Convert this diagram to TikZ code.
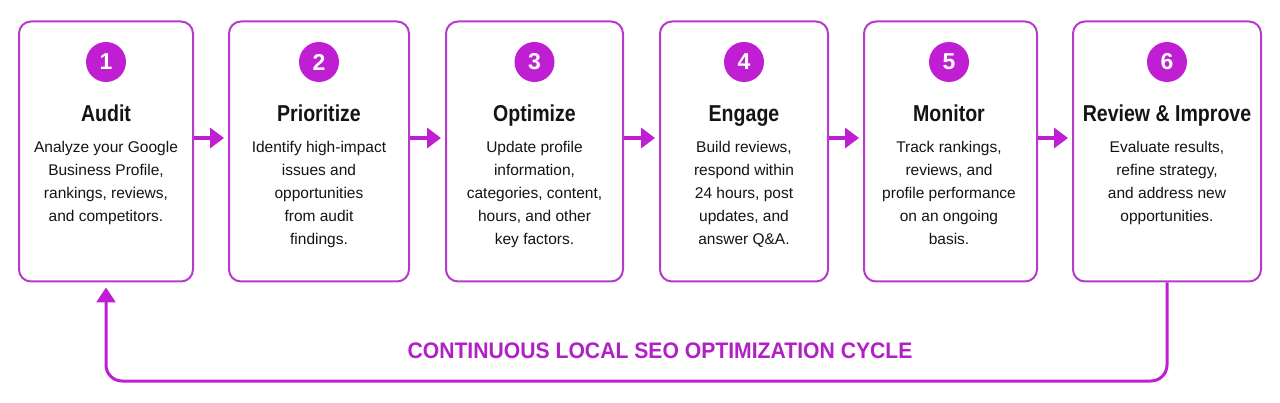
\documentclass[tikz,border=0pt]{standalone}
\usepackage{fontspec}
\setmainfont{Liberation Sans}
\newfontfamily\titlefont[FakeStretch=0.85]{Liberation Sans Bold}
\newfontfamily\capfont[FakeStretch=0.94]{Liberation Sans Bold}
\usetikzlibrary{arrows.meta}
\definecolor{mag}{HTML}{C01ED2}
\definecolor{bord}{HTML}{B43CC8}
\definecolor{ink}{HTML}{141414}
\definecolor{captxt}{HTML}{B020C4}
\tikzset{
  stepbox/.style={draw=bord, line width=2pt, rounded corners=12pt, fill=white,
    minimum height=260pt, inner sep=0pt},
  numcirc/.style={circle, fill=mag, minimum size=40pt, inner sep=0pt,
    text=white, font=\fontsize{23}{23}\selectfont\bfseries},
  titletxt/.style={anchor=base, inner sep=0pt, text=ink, font=\titlefont\fontsize{23}{23}\selectfont},
  bodytxt/.style={anchor=north, inner sep=0pt, align=center, text=ink,
    font=\fontsize{15.5}{23}\selectfont},
  flow/.style={draw=mag, line width=4pt, -{Triangle[length=14pt,width=20pt]}, shorten >=4pt},
  cycle/.style={draw=mag, line width=3pt, rounded corners=16pt,
    -{Triangle[length=15pt,width=19pt]}, shorten >=5pt},
  captionlbl/.style={anchor=base, inner sep=0pt, text=captxt,
    font=\capfont\fontsize{22.5}{22.5}\selectfont}
}
\begin{document}
\begin{tikzpicture}[x=1pt,y=-1pt]
\useasboundingbox (0,0) rectangle (1280,403);
% boxes
\node[stepbox, minimum width=174pt] (b1) at (106,151.5) {};
\node[stepbox, minimum width=180pt] (b2) at (319,151.5) {};
\node[stepbox, minimum width=177pt] (b3) at (534.5,151.5) {};
\node[stepbox, minimum width=168pt] (b4) at (744,151.5) {};
\node[stepbox, minimum width=173pt] (b5) at (950.5,151.5) {};
\node[stepbox, minimum width=188pt] (b6) at (1167,151.5) {};
% number circles
\node[numcirc] (c1) at (106,62) {1};
\node[numcirc] (c2) at (319,62) {2};
\node[numcirc] (c3) at (534.5,62) {3};
\node[numcirc] (c4) at (744,62) {4};
\node[numcirc] (c5) at (949,62) {5};
\node[numcirc] (c6) at (1167,62) {6};
% titles
\node[titletxt] (t1) at (106,122) {Audit};
\node[titletxt] (t2) at (319,122) {Prioritize};
\node[titletxt] (t3) at (534.5,122) {Optimize};
\node[titletxt] (t4) at (744,122) {Engage};
\node[titletxt] (t5) at (949,122) {Monitor};
\node[titletxt] (t6) at (1167,122) {Review \& Improve};
% bodies
\node[bodytxt] (d1) at (106,141) {Analyze your Google\\Business Profile,\\rankings, reviews,\\and competitors.};
\node[bodytxt] (d2) at (319,141) {Identify high-impact\\issues and\\opportunities\\from audit\\findings.};
\node[bodytxt] (d3) at (534.5,141) {Update profile\\information,\\categories, content,\\hours, and other\\key factors.};
\node[bodytxt] (d4) at (744,141) {Build reviews,\\respond within\\24 hours, post\\updates, and\\answer Q\&A.};
\node[bodytxt] (d5) at (949,141) {Track rankings,\\reviews, and\\profile performance\\on an ongoing\\basis.};
\node[bodytxt] (d6) at (1167,141) {Evaluate results,\\refine strategy,\\and address new\\opportunities.};
% flow arrows
\draw[flow] (b1.east |- 0,138) -- (b2.west |- 0,138);
\draw[flow] (b2.east |- 0,138) -- (b3.west |- 0,138);
\draw[flow] (b3.east |- 0,138) -- (b4.west |- 0,138);
\draw[flow] (b4.east |- 0,138) -- (b5.west |- 0,138);
\draw[flow] (b5.east |- 0,138) -- (b6.west |- 0,138);
% cycle
\coordinate (low) at (0,381);
\draw[cycle] (b6.south) -- (b6.south |- low) -- (b1.south |- low) -- (b1.south);
\node[captionlbl] (cap) at (660,359) {CONTINUOUS LOCAL SEO OPTIMIZATION CYCLE};
\end{tikzpicture}
\end{document}
